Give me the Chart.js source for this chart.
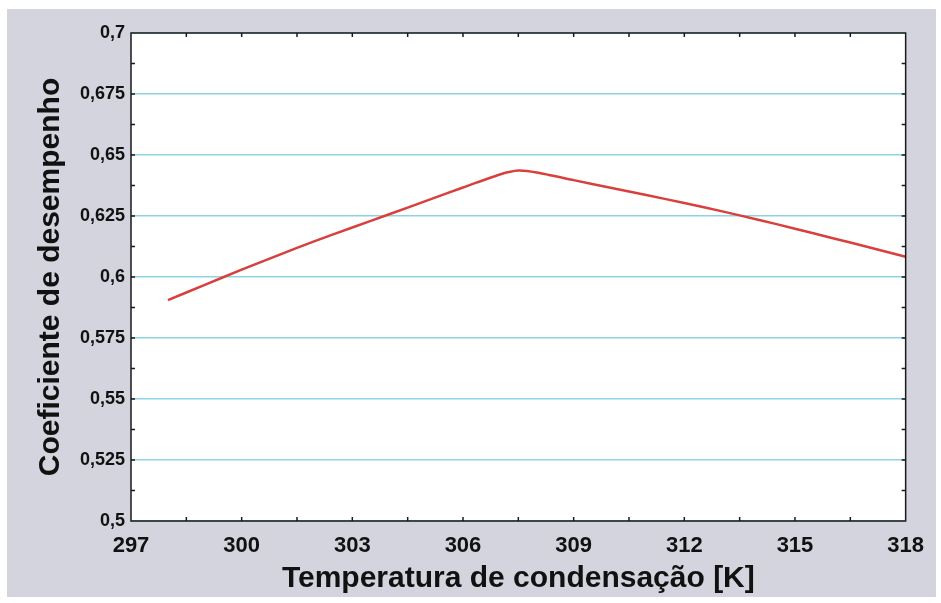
<!DOCTYPE html>
<html>
<head>
<meta charset="utf-8">
<script src="https://cdn.jsdelivr.net/npm/chart.js@4"></script>
<style>
    body { margin: 0; background: #ffffff; }
    #box { position: absolute; left: 7px; top: 9px; width: 929px; height: 588px; background: #d3d4dd; }
</style>
</head>
<body>
<div id="box"><canvas id="chart" width="929" height="588"></canvas></div>
<script>
// Temperatura de condensação [K]
const temperatures = [298, 299, 300, 301, 302, 303, 304, 305, 306, 307, 307.5, 308, 309, 310, 311, 312, 313, 314, 315, 316, 317, 318];
// Coeficiente de desempenho
const copValues = [0.5905, 0.5968, 0.6030, 0.6090, 0.6148, 0.6203, 0.6257, 0.6312, 0.6367, 0.6420, 0.6436, 0.6428, 0.6397, 0.6366, 0.6335, 0.6303, 0.6270, 0.6235, 0.6198, 0.6160, 0.6122, 0.6083];

const xMin = 297, xMax = 318, xStep = 3;
const yMin = 0.5, yMax = 0.7, yStep = 0.025;

function fmt(v) {
    return Number(v.toFixed(4)).toString().replace('.', ',');
}

// white plot background
const bgPlugin = {
    id: 'plotBg',
    beforeDraw(chart) {
        const { ctx, chartArea: a } = chart;
        ctx.save();
        ctx.fillStyle = '#ffffff';
        ctx.fillRect(a.left, a.top, a.right - a.left, a.bottom - a.top);
        ctx.restore();
    }
};

// black frame with small inward ticks, like the original plot
const framePlugin = {
    id: 'frame',
    afterDraw(chart) {
        const { ctx, chartArea: a, scales } = chart;
        ctx.save();
        ctx.strokeStyle = '#1a1a1a';
        ctx.lineWidth = 1.5;
        ctx.strokeRect(a.left, a.top, a.right - a.left, a.bottom - a.top);
        ctx.beginPath();
        for (let v = xMin + xStep / 2; v < xMax; v += xStep / 2) {
            const px = scales.x.getPixelForValue(v);
            ctx.moveTo(px, a.bottom); ctx.lineTo(px, a.bottom - 4);
            ctx.moveTo(px, a.top); ctx.lineTo(px, a.top + 4);
        }
        for (let v = yMin + yStep / 2; v < yMax - 0.001; v += yStep / 2) {
            const py = scales.y.getPixelForValue(v);
            ctx.moveTo(a.left, py); ctx.lineTo(a.left + 4, py);
            ctx.moveTo(a.right, py); ctx.lineTo(a.right - 4, py);
        }
        ctx.stroke();
        ctx.restore();
    }
};

const ctx = document.getElementById('chart');
new Chart(ctx, {
    type: 'line',
    data: {
        datasets: [{
            data: temperatures.map((t, i) => ({ x: t, y: copValues[i] })),
            borderColor: '#d8403d',
            borderWidth: 2.5,
            pointRadius: 0,
            tension: 0.2,
            fill: false
        }]
    },
    options: {
        responsive: false,
        animation: false,
        layout: { padding: { left: 26, top: 24, right: 30, bottom: 0 } },
        plugins: {
            legend: { display: false },
            tooltip: { enabled: false }
        },
        scales: {
            x: {
                type: 'linear',
                min: xMin,
                max: xMax,
                afterFit: s => { s.height = 76; },
                grid: { display: false, drawTicks: false },
                border: { display: false },
                ticks: {
                    stepSize: xStep,
                    padding: 12,
                    color: '#111',
                    font: { family: 'Liberation Sans', size: 22, weight: 'bold' }
                },
                title: {
                    display: true,
                    text: 'Temperatura de condensação [K]',
                    color: '#111',
                    padding: { top: 0, bottom: 0 },
                    font: { family: 'Liberation Sans', size: 30, weight: 'bold' }
                }
            },
            y: {
                min: yMin,
                max: yMax,
                afterFit: s => { s.width = 98; },
                grid: { color: '#8fd3e3', lineWidth: 1.5, drawTicks: false },
                border: { display: false },
                ticks: {
                    stepSize: yStep,
                    padding: 6,
                    color: '#111',
                    font: { family: 'Liberation Sans', size: 18, weight: 'bold' },
                    callback: v => fmt(v)
                },
                title: {
                    display: true,
                    text: 'Coeficiente de desempenho',
                    color: '#111',
                    padding: { top: 0, bottom: 2 },
                    font: { family: 'Liberation Sans', size: 30, weight: 'bold' }
                }
            }
        }
    },
    plugins: [bgPlugin, framePlugin]
});
</script>
</body>
</html>
